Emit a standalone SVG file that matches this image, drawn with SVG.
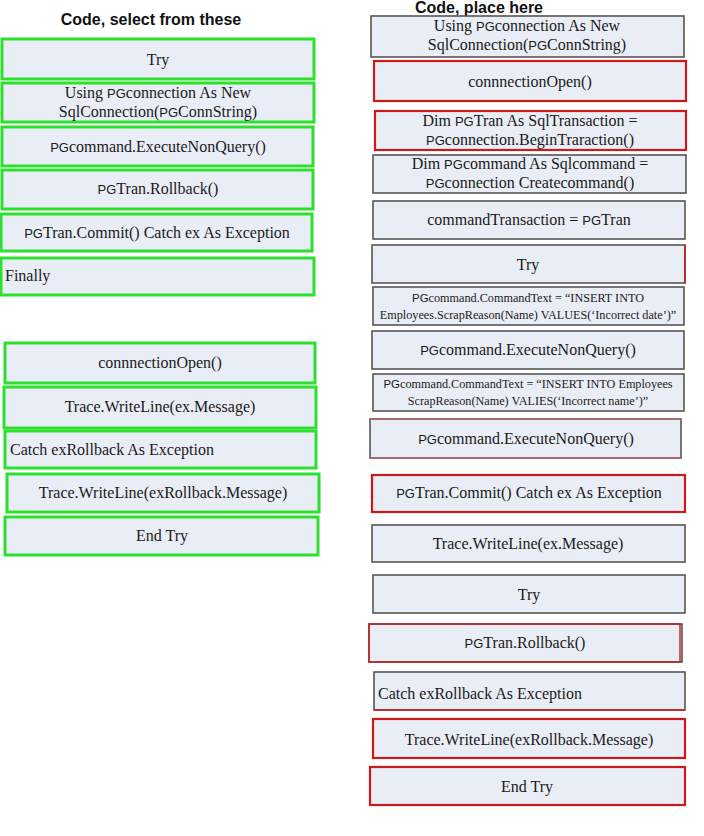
<svg xmlns="http://www.w3.org/2000/svg" width="704" height="836" viewBox="0 0 704 836">
<style>
  .bg { fill: #ffffff; }
  .box { fill: #e9edf5; }
  .g { stroke: #2ee02e; stroke-width: 3; }
  .k { stroke: #555555; stroke-width: 1.6; }
  .r { stroke: #cc1a1a; stroke-width: 2.2; }
  .t { font-family: "Liberation Serif", "Times New Roman", serif; font-size: 16px; fill: #1a1a1a; text-anchor: middle; }
  .tl { font-family: "Liberation Serif", "Times New Roman", serif; font-size: 16px; fill: #1a1a1a; }
  .s { font-family: "Liberation Serif", "Times New Roman", serif; font-size: 12.2px; fill: #1a1a1a; text-anchor: middle; }
  .pg { font-family: "Liberation Sans", Arial, sans-serif; font-size: 13px; }
  .pgs { font-family: "Liberation Sans", Arial, sans-serif; font-size: 11.5px; }
  .h { font-family: "Liberation Sans", Arial, sans-serif; font-size: 16px; font-weight: bold; fill: #111111; text-anchor: middle; }
</style>
<rect class="bg" x="0" y="0" width="704" height="836"/>
<text class="h" x="151" y="25">Code, select from these</text>
<text class="h" x="479" y="13">Code, place here</text>

<g id="left-try">
  <rect class="box g" x="2" y="39" width="312" height="40"/>
  <text class="t" x="158" y="65">Try</text>
</g>
<g id="left-using">
  <rect class="box g" x="2" y="83" width="312" height="39"/>
  <text class="t" x="158" y="98">Using <tspan class="pg">PG</tspan>connection As New</text>
  <text class="t" x="158" y="117">SqlConnection(<tspan class="pg">PG</tspan>ConnString)</text>
</g>
<g id="left-execute">
  <rect class="box g" x="2" y="127" width="311" height="39"/>
  <text class="t" x="158" y="152"><tspan class="pg">PG</tspan>command.ExecuteNonQuery()</text>
</g>
<g id="left-rollback">
  <rect class="box g" x="2" y="170" width="311" height="39"/>
  <text class="t" x="158" y="194"><tspan class="pg">PG</tspan>Tran.Rollback()</text>
</g>
<g id="left-commit">
  <rect class="box g" x="1" y="214" width="311" height="37"/>
  <text class="t" x="157" y="238"><tspan class="pg">PG</tspan>Tran.Commit() Catch ex As Exception</text>
</g>
<g id="left-finally">
  <rect class="box g" x="1" y="258" width="313" height="37"/>
  <text class="tl" x="5" y="281">Finally</text>
</g>
<g id="left-open">
  <rect class="box g" x="5" y="343" width="310" height="40"/>
  <text class="t" x="160" y="368">connnectionOpen()</text>
</g>
<g id="left-trace-ex">
  <rect class="box g" x="4" y="387" width="312" height="41"/>
  <text class="t" x="160" y="412">Trace.WriteLine(ex.Message)</text>
</g>
<g id="left-catch">
  <rect class="box g" x="5" y="431" width="311" height="37"/>
  <text class="tl" x="10" y="455">Catch exRollback As Exception</text>
</g>
<g id="left-trace-rb">
  <rect class="box g" x="7" y="474" width="312" height="38"/>
  <text class="t" x="163" y="498">Trace.WriteLine(exRollback.Message)</text>
</g>
<g id="left-endtry">
  <rect class="box g" x="5" y="517" width="313" height="38"/>
  <text class="t" x="162" y="541">End Try</text>
</g>

<g id="right-using">
  <rect class="box k" x="371" y="16" width="313" height="41"/>
  <text class="t" x="527" y="31">Using <tspan class="pg">PG</tspan>connection As New</text>
  <text class="t" x="527" y="50">SqlConnection(<tspan class="pg">PG</tspan>ConnString)</text>
</g>
<g id="right-open">
  <rect class="box r" x="374" y="61" width="312" height="40"/>
  <text class="t" x="530" y="87">connnectionOpen()</text>
</g>
<g id="right-begintran">
  <rect class="box r" x="375" y="111" width="311" height="39"/>
  <text class="t" x="530" y="126">Dim <tspan class="pg">PG</tspan>Tran As SqlTransaction =</text>
  <text class="t" x="530" y="145"><tspan class="pg">PG</tspan>connection.BeginTraraction()</text>
</g>
<g id="right-createcommand">
  <rect class="box k" x="373" y="155" width="313" height="38"/>
  <text class="t" x="530" y="169">Dim <tspan class="pg">PG</tspan>command As Sqlcommand =</text>
  <text class="t" x="530" y="188"><tspan class="pg">PG</tspan>connection Createcommand()</text>
</g>
<g id="right-cmdtrans">
  <rect class="box k" x="373" y="201" width="312" height="38"/>
  <text class="t" x="529" y="225">commandTransaction = <tspan class="pg">PG</tspan>Tran</text>
</g>
<g id="right-try1">
  <rect class="box k" x="372" y="245" width="313" height="38"/>
  <line x1="685" y1="245" x2="685" y2="283" stroke="#cc1a1a" stroke-width="1.6"/>
  <text class="t" x="528" y="270">Try</text>
</g>
<g id="right-cmdtext-date">
  <rect class="box k" x="373" y="287" width="311" height="38"/>
  <text class="s" x="528" y="302"><tspan class="pgs">PG</tspan>command.CommandText = “INSERT INTO</text>
  <text class="s" x="528" y="319">Employees.ScrapReason(Name) VALUES(‘Incorrect date’)”</text>
</g>
<g id="right-execute1">
  <rect class="box k" x="372" y="331" width="312" height="38"/>
  <text class="t" x="528" y="355"><tspan class="pg">PG</tspan>command.ExecuteNonQuery()</text>
</g>
<g id="right-cmdtext-name">
  <rect class="box k" x="373" y="374" width="311" height="37"/>
  <text class="s" x="528" y="388"><tspan class="pgs">PG</tspan>command.CommandText = “INSERT INTO Employees</text>
  <text class="s" x="528" y="405">ScrapReason(Name) VALIES(‘Incorrect name’)”</text>
</g>
<g id="right-execute2">
  <rect class="box k" x="370" y="419" width="311" height="39"/>
  <line x1="370" y1="419" x2="681" y2="419" stroke="#d46060" stroke-width="1.2"/>
  <line x1="370" y1="458" x2="681" y2="458" stroke="#d46060" stroke-width="1.2"/>
  <text class="t" x="526" y="444"><tspan class="pg">PG</tspan>command.ExecuteNonQuery()</text>
</g>
<g id="right-commit">
  <rect class="box r" x="372" y="475" width="313" height="37"/>
  <text class="t" x="529" y="498"><tspan class="pg">PG</tspan>Tran.Commit() Catch ex As Exception</text>
</g>
<g id="right-trace-ex">
  <rect class="box k" x="372" y="525" width="313" height="37"/>
  <text class="t" x="528" y="549">Trace.WriteLine(ex.Message)</text>
</g>
<g id="right-try2">
  <rect class="box k" x="373" y="575" width="312" height="38"/>
  <text class="t" x="529" y="600">Try</text>
</g>
<g id="right-rollback">
  <rect class="box k" x="369" y="624" width="313" height="38"/>
  <rect x="369" y="624" width="311" height="38" fill="none" stroke="#cc1a1a" stroke-width="1.4"/>
  <text class="t" x="525" y="648"><tspan class="pg">PG</tspan>Tran.Rollback()</text>
</g>
<g id="right-catch">
  <rect class="box k" x="374" y="672" width="311" height="38"/>
  <line x1="374" y1="710" x2="684" y2="710" stroke="#cc1a1a" stroke-width="1.4"/>
  <text class="tl" x="378" y="699">Catch exRollback As Exception</text>
</g>
<g id="right-trace-rb">
  <rect class="box r" x="373" y="719" width="312" height="39"/>
  <text class="t" x="529" y="745">Trace.WriteLine(exRollback.Message)</text>
</g>
<g id="right-endtry">
  <rect class="box r" x="370" y="767" width="315" height="38"/>
  <text class="t" x="527" y="792">End Try</text>
</g>
</svg>
